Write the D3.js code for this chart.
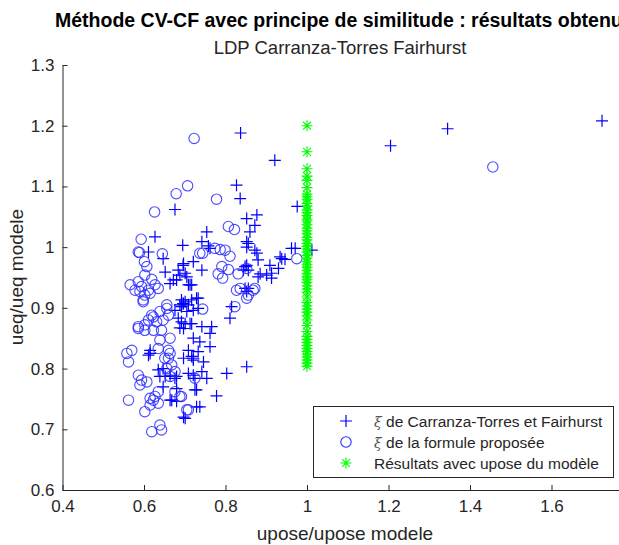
<!DOCTYPE html>
<html>
<head>
<meta charset="utf-8">
<script src="https://cdn.jsdelivr.net/npm/d3@7"></script>
<style>
  body { margin: 0; background: #fff; }
  svg { display: block; font-family: "Liberation Sans", Arial, Helvetica, sans-serif; }
</style>
</head>
<body>
<svg id="chart" width="619" height="545"></svg>
<script>
// xi ratio from the Carranza-Torres & Fairhurst formulation (plus markers)
const xPlus = [1.724,1.345,1.205,0.921,0.837,
  0.676,0.627,0.695,0.611,0.647,0.721,0.696,0.652,0.684,0.701,0.680,0.664,0.709,0.729,0.688,0.696,0.709,0.676,
  0.827,0.836,0.852,0.877,0.872,0.860,0.754,0.758,0.852,0.852,0.872,0.877,0.880,0.934,0.946,0.909,0.930,0.913,
  0.885,0.880,0.852,0.856,0.844,0.742,0.705,0.713,0.856,0.852,0.976,0.971,1.012,0.815,0.811,0.733,0.721,0.713,
  0.742,0.766,0.697,0.692,
  0.762,0.721,0.737,0.762,0.709,0.721,0.746,0.803,0.852,0.721,0.754,0.725,0.778,0.737,0.697,0.701,0.692,0.688,
  0.697,0.615,0.635,0.647,0.664,0.676,0.680,0.639,0.733,0.697,0.717,0.709,0.725,0.668,0.680,0.647,0.742,
  0.742,0.697,0.717,0.692,0.701,0.717,0.733,0.705,0.684,0.701,0.717,0.672,0.688,
  0.762,0.856,0.848,0.938,0.901,0.913,0.848,0.962,
  0.615,0.611,0.680,0.652,0.729,0.721,0.729,0.664];
const yPlus = [1.208,1.195,1.167,1.143,1.188,
  1.062,1.017,1.003,0.992,0.981,0.976,0.970,0.959,0.962,0.957,0.946,0.940,0.938,0.916,0.905,0.907,0.905,0.896,
  1.102,1.080,1.047,1.053,1.036,1.025,1.025,1.002,1.009,1.000,0.995,0.990,0.979,0.984,0.980,0.970,0.965,0.957,
  0.956,0.951,0.970,0.962,0.962,0.962,0.951,0.938,0.932,0.927,1.067,0.998,0.995,0.902,0.883,0.916,0.896,0.874,
  0.869,0.869,0.907,0.877,
  0.858,0.850,0.844,0.836,0.830,0.814,0.811,0.792,0.803,0.789,0.784,0.765,0.755,0.737,0.720,0.718,0.902,0.867,
  0.866,0.825,0.798,0.800,0.789,0.784,0.767,0.787,0.828,0.817,0.820,0.792,0.784,0.748,0.746,0.770,0.795,
  1.009,0.973,0.938,0.913,0.910,0.913,0.899,0.894,0.883,0.874,0.874,0.946,0.954,
  0.998,1.006,0.968,0.981,0.954,0.949,0.932,0.998,
  0.830,0.822,0.787,0.787,0.765,0.817,0.737,0.748];

// xi ratio from the proposed formula (circle markers)
const xCirc = [1.456,0.723,0.679,0.707,0.626,0.593,0.589,0.645,0.737,0.778,0.807,0.822,0.744,0.774,0.787,0.799,
  0.811,0.791,0.807,0.782,0.793,0.831,0.852,0.827,0.836,0.856,0.868,0.852,0.823,0.744,0.975,0.872,
  0.586,0.601,0.607,0.602,0.619,0.566,0.586,0.594,0.578,0.590,0.602,0.615,0.627,0.635,0.598,0.611,0.656,0.639,
  0.623,0.611,0.631,0.586,0.602,0.647,0.660,0.656,0.598,0.619,0.639,0.660,
  0.570,0.562,0.558,0.586,0.594,0.590,0.607,0.562,0.602,0.615,0.627,0.635,0.623,0.635,0.619,0.639,0.643,0.635,
  0.651,0.664,0.656,0.668,0.676,0.664,0.688,0.676,0.586,0.602,0.623,0.643,0.660,0.664,0.709,0.615,0.725,0.692,0.705];
const yCirc = [1.132,1.179,1.088,1.101,1.058,1.013,0.991,0.989,0.990,1.079,1.034,1.029,0.990,0.998,0.996,0.995,
  0.985,0.968,0.963,0.956,0.949,0.956,0.965,0.929,0.932,0.921,0.929,0.916,0.902,0.898,0.981,0.932,
  0.992,0.976,0.968,0.954,0.947,0.938,0.943,0.935,0.929,0.927,0.921,0.924,0.938,0.932,0.913,0.929,0.899,0.894,
  0.885,0.880,0.877,0.869,0.872,0.880,0.888,0.905,0.910,0.888,0.847,0.830,
  0.830,0.811,0.825,0.789,0.781,0.773,0.778,0.748,0.729,0.740,0.754,0.762,0.748,0.743,0.696,0.707,0.699,0.833,
  0.817,0.825,0.800,0.806,0.795,0.787,0.754,0.762,0.866,0.863,0.863,0.863,0.817,0.850,0.732,0.751,0.784,0.754,0.732];

// results computed with the model's upose (star markers, all at x = 1)
const yStar = [1.200,1.157,1.129,1.117,1.110,1.098,1.087,1.083,1.079,1.072,1.068,1.061,1.057,1.052,1.046,1.043,
  1.037,1.031,1.027,1.022,1.016,1.012,1.006,1.001,0.997,0.992,0.986,0.982,0.976,0.971,0.967,0.962,0.956,0.951,
  0.947,0.942,0.936,0.931,0.926,0.918,0.909,0.903,0.898,0.893,0.887,0.880,0.871,0.861,0.853,0.848,0.843,0.838,
  0.833,0.828,0.824,0.819,0.814,0.809,0.804];
const xStar = yStar.map(() => 1);

const xTicks = [0.4,0.6,0.8,1,1.2,1.4,1.6,1.8];
const yTicks = [0.6,0.7,0.8,0.9,1,1.1,1.2,1.3];
const legendLabels = ["de Carranza-Torres et Fairhurst", "de la formule proposée", "Résultats avec upose du modèle"];

const svg = d3.select("#chart");
const axisColor = "#262626";

const x = d3.scaleLinear().domain([0.4, 1.8]).range([62.5, 633]);
const y = d3.scaleLinear().domain([0.6, 1.3]).range([490, 65]);

// axes (inward ticks, no surrounding box)
const fmt = d => d3.format("")(+d.toFixed(1));
const gx = svg.append("g").attr("transform", "translate(0,490)")
  .call(d3.axisBottom(x).tickValues(xTicks).tickFormat(fmt).tickSizeInner(-5).tickSizeOuter(0).tickPadding(10));
const gy = svg.append("g").attr("transform", "translate(62.5,0)")
  .call(d3.axisLeft(y).tickValues(yTicks).tickFormat(fmt).tickSizeInner(-5).tickSizeOuter(0).tickPadding(8));
[gx, gy].forEach(g => {
  g.select(".domain").attr("stroke", axisColor);
  g.selectAll(".tick line").attr("stroke", axisColor);
  g.selectAll(".tick text").attr("fill", axisColor).style("font-size", "17px")
    .style("font-family", "'Liberation Sans', Arial, sans-serif");
});

// marker paths
const plusPath = s => `M${-s},0H${s}M0,${-s}V${s}`;
const starPath = s => { const d = s * 0.72; return `M${-s},0H${s}M0,${-s}V${s}M${-d},${-d}L${d},${d}M${-d},${d}L${d},${-d}`; };

const plot = svg.append("g");
plot.selectAll("path.plus").data(d3.range(xPlus.length)).join("path")
  .attr("class", "plus")
  .attr("transform", i => `translate(${x(xPlus[i])},${y(yPlus[i])})`)
  .attr("d", plusPath(6))
  .attr("stroke", "#0000ff").attr("stroke-width", 1.2).attr("fill", "none");

plot.selectAll("circle.circ").data(d3.range(xCirc.length)).join("circle")
  .attr("class", "circ")
  .attr("cx", i => x(xCirc[i])).attr("cy", i => y(yCirc[i])).attr("r", 5.2)
  .attr("stroke", "#2b2bff").attr("stroke-opacity", 0.85).attr("stroke-width", 1.1).attr("fill", "none");

plot.selectAll("path.star").data(d3.range(yStar.length)).join("path")
  .attr("class", "star")
  .attr("transform", i => `translate(${x(xStar[i])},${y(yStar[i])})`)
  .attr("d", starPath(5.5))
  .attr("stroke", "#00ff00").attr("stroke-width", 1.1).attr("fill", "none");

// titles and axis labels
svg.append("text").attr("x", 55).attr("y", 27)
  .style("font-size", "19.5px").style("font-weight", "bold").attr("fill", "#000")
  .text("Méthode CV-CF avec principe de similitude : résultats obtenus");
svg.append("text").attr("x", 340).attr("y", 54).attr("text-anchor", "middle")
  .style("font-size", "18.5px").attr("fill", axisColor)
  .text("LDP Carranza-Torres Fairhurst");
svg.append("text").attr("x", 345).attr("y", 540).attr("text-anchor", "middle")
  .style("font-size", "19px").attr("fill", axisColor).text("upose/upose modele");
svg.append("text").attr("transform", "translate(23,277) rotate(-90)").attr("text-anchor", "middle")
  .style("font-size", "19px").attr("fill", axisColor).text("ueq/ueq modele");

// legend
const lg = svg.append("g");
lg.append("rect").attr("x", 313.5).attr("y", 406.5).attr("width", 300).attr("height", 71)
  .attr("fill", "#fff").attr("stroke", axisColor).attr("stroke-width", 1);
const rowY = [421, 442, 463];
lg.append("path").attr("transform", `translate(346,${rowY[0]})`).attr("d", plusPath(6))
  .attr("stroke", "#0000ff").attr("stroke-width", 1.2).attr("fill", "none");
lg.append("circle").attr("cx", 346).attr("cy", rowY[1]).attr("r", 5.2)
  .attr("stroke", "#2b2bff").attr("stroke-width", 1.1).attr("fill", "none");
lg.append("path").attr("transform", `translate(346,${rowY[2]})`).attr("d", starPath(5.5))
  .attr("stroke", "#00ff00").attr("stroke-width", 1.1).attr("fill", "none");
legendLabels.forEach((lab, i) => {
  const t = lg.append("text").attr("x", 374).attr("y", rowY[i] + 5.5)
    .style("font-size", "15.5px").attr("fill", axisColor);
  if (i < 2) {
    t.append("tspan").style("font-style", "italic").style("font-family", "'DejaVu Serif', serif")
      .style("font-size", "14px").attr("fill", "#555").text("ξ");
    t.append("tspan").text(" " + lab);
  } else {
    t.text(lab);
  }
});
</script>
</body>
</html>
